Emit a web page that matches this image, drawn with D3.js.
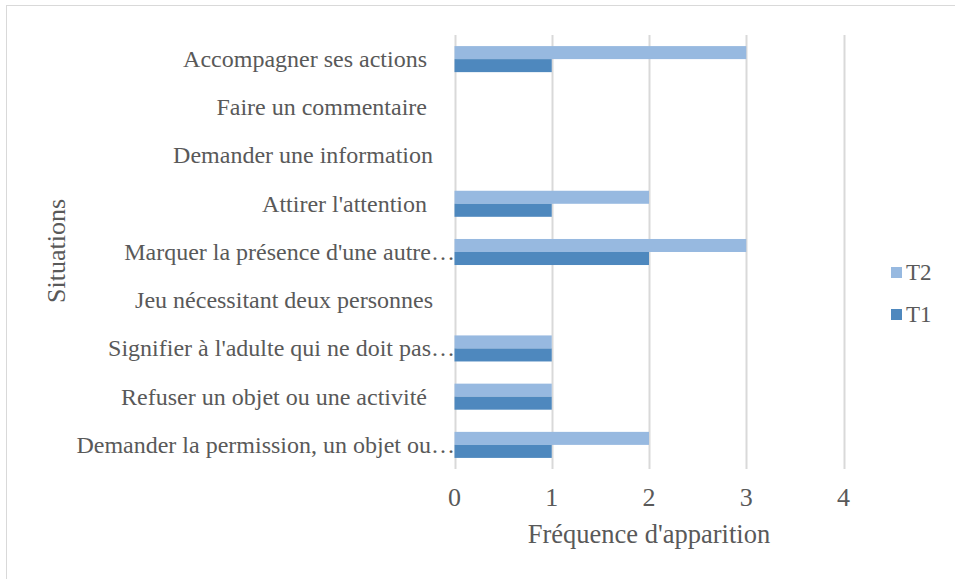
<!DOCTYPE html>
<html>
<head>
<meta charset="utf-8">
<script src="https://cdn.jsdelivr.net/npm/d3@7"></script>
<style>
  body { margin: 0; background: #fff; }
  svg { display: block; }
  svg text { font-family: "Liberation Serif", "DejaVu Serif", "Times New Roman", Times, serif; white-space: pre; }
</style>
</head>
<body>
<svg id="chart" width="955" height="579"></svg>
<script>
// categories, top to bottom
const categories = [
    'Accompagner ses actions ',
    'Faire un commentaire ',
    'Demander une information',
    'Attirer l\'attention ',
    'Marquer la présence d\'une autre…',
    'Jeu nécessitant deux personnes',
    'Signifier à l\'adulte qui ne doit pas…',
    'Refuser un objet ou une activité ',
    'Demander la permission, un objet ou…'
];
const seriesNames = ['T2', 'T1'];
const valuesT2 = [3, 0, 0, 2, 3, 0, 1, 1, 2];
const valuesT1 = [1, 0, 0, 1, 2, 0, 1, 1, 1];
const xTicks = [0, 1, 2, 3, 4];

const colors = { T2: '#97B9E0', T1: '#4E88BE' };
const textColor = '#595959';
const gridColor = '#D9D9D9';
const serif = '"Liberation Serif", "DejaVu Serif", serif';

const svg = d3.select('#chart');

// outer chart border (only top and left fall inside the picture)
svg.append('rect')
    .attr('x', 6.5)
    .attr('y', 5.5)
    .attr('width', 1000)
    .attr('height', 1000)
    .attr('fill', 'none')
    .attr('stroke', '#D9D9D9');

const plot = { left: 454.5, right: 843.5, top: 35, bottom: 469 };

const x = d3.scaleLinear()
    .domain([0, 4])
    .range([plot.left, plot.right]);

const y = d3.scaleBand()
    .domain(categories)
    .range([plot.top, plot.bottom])
    .paddingInner(0.46)
    .paddingOuter(0.23);

const ySub = d3.scaleBand()
    .domain(seriesNames)
    .range([0, y.bandwidth()]);

// gridlines
svg.append('g')
    .selectAll('line')
    .data(xTicks)
    .join('line')
    .attr('x1', d => Math.round(x(d)) + 0.5)
    .attr('x2', d => Math.round(x(d)) + 0.5)
    .attr('y1', plot.top)
    .attr('y2', plot.bottom)
    .attr('stroke', gridColor)
    .attr('stroke-width', 2);

// bars
const rows = categories.map((c, i) => ({ cat: c, T2: valuesT2[i], T1: valuesT1[i] }));

const rowG = svg.append('g').attr('class', 'bars')
    .selectAll('g')
    .data(rows)
    .join('g')
    .attr('transform', d => `translate(0,${y(d.cat)})`);

rowG.selectAll('rect')
    .data(d => seriesNames.map(s => ({ key: s, value: d[s] })))
    .join('rect')
    .attr('x', x(0))
    .attr('y', d => ySub(d.key))
    .attr('width', d => x(d.value) - x(0))
    .attr('height', ySub.bandwidth())
    .attr('fill', d => colors[d.key]);

// x tick labels
svg.append('g')
    .selectAll('text')
    .data(xTicks)
    .join('text')
    .attr('x', d => x(d))
    .attr('y', 506)
    .attr('text-anchor', 'middle')
    .attr('font-family', serif)
    .attr('font-size', 26)
    .attr('fill', textColor)
    .text(d => d);

// category labels (truncated ones run up to the axis)
svg.append('g')
    .selectAll('text')
    .data(categories)
    .join('text')
    .attr('x', d => d.endsWith('…') ? 455 : 433)
    .attr('y', d => y(d) + y.bandwidth() / 2)
    .attr('dy', '0.33em')
    .attr('text-anchor', 'end')
    .attr('font-family', serif)
    .attr('font-size', 24)
    .attr('fill', textColor)
    .text(d => d);

// axis titles
svg.append('text')
    .attr('x', (x(0) + x(4)) / 2)
    .attr('y', 543)
    .attr('text-anchor', 'middle')
    .attr('font-family', serif)
    .attr('font-size', 26.5)
    .attr('fill', textColor)
    .text('Fréquence d\'apparition');

svg.append('text')
    .attr('transform', 'translate(65,251) rotate(-90)')
    .attr('text-anchor', 'middle')
    .attr('font-family', serif)
    .attr('font-size', 26)
    .attr('fill', textColor)
    .text('Situations');

// legend
const legend = svg.append('g')
    .selectAll('g')
    .data(seriesNames)
    .join('g')
    .attr('transform', (d, i) => `translate(891,${267 + i * 42})`);

legend.append('rect')
    .attr('width', 11)
    .attr('height', 11)
    .attr('fill', d => colors[d]);

legend.append('text')
    .attr('x', 15)
    .attr('y', 13)
    .attr('font-family', serif)
    .attr('font-size', 23)
    .attr('fill', textColor)
    .text(d => d);
</script>
</body>
</html>
